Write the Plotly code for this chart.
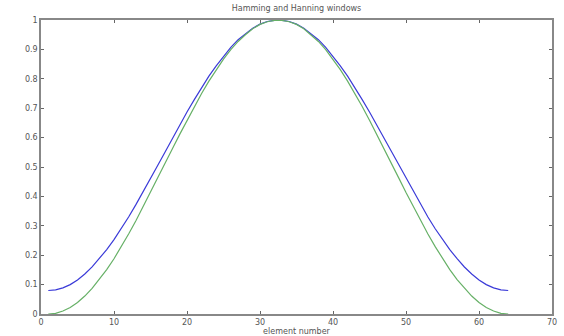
import plotly.graph_objects as go

element = list(range(1, 65))
hamming_half = [0.080, 0.082, 0.089, 0.100, 0.116, 0.136, 0.160, 0.188, 0.219, 0.253,
                0.290, 0.330, 0.372, 0.415, 0.460, 0.506, 0.551, 0.597, 0.642, 0.687,
                0.729, 0.770, 0.809, 0.844, 0.877, 0.907, 0.933, 0.954, 0.972, 0.986,
                0.995, 0.999]
hanning_half = [0.000, 0.002, 0.010, 0.022, 0.039, 0.061, 0.087, 0.117, 0.151, 0.188,
                0.229, 0.272, 0.317, 0.365, 0.413, 0.463, 0.512, 0.562, 0.611, 0.659,
                0.706, 0.750, 0.792, 0.831, 0.867, 0.899, 0.927, 0.950, 0.970, 0.985,
                0.994, 0.999]
hamming = hamming_half + hamming_half[::-1]
hanning = hanning_half + hanning_half[::-1]

x_ticks = [0, 10, 20, 30, 40, 50, 60, 70]
y_ticks = [0, 0.1, 0.2, 0.3, 0.4, 0.5, 0.6, 0.7, 0.8, 0.9, 1]
y_labels = ["0", "0.1", "0.2", "0.3", "0.4", "0.5", "0.6", "0.7", "0.8", "0.9", "1"]

fig = go.Figure()
fig.add_trace(go.Scatter(x=element, y=hamming, mode="lines",
                         line=dict(color="#3a3ad8", width=1.2), name="Hamming"))
fig.add_trace(go.Scatter(x=element, y=hanning, mode="lines",
                         line=dict(color="#66b066", width=1.2), name="Hanning"))

axis_common = dict(showgrid=False, zeroline=False, showline=True, linecolor="#888888",
                   linewidth=1.5, mirror="ticks", ticks="inside", ticklen=3,
                   tickcolor="#666666", automargin=False,
                   tickfont=dict(size=8, color="#555555", family="DejaVu Sans"))
fig.update_xaxes(range=[0, 70], tickvals=x_ticks, **axis_common,
                 title=dict(text="element number", standoff=0,
                            font=dict(size=8, color="#555555", family="DejaVu Sans")))
fig.update_yaxes(range=[0, 1], tickvals=y_ticks, ticktext=y_labels, **axis_common)
fig.update_layout(
    width=564, height=336, showlegend=False,
    plot_bgcolor="white", paper_bgcolor="white",
    margin=dict(l=41, r=12, t=20, b=22),
    title=dict(text="Hamming and Hanning windows", x=0.5, xref="paper",
               yref="container", y=0.976, yanchor="middle",
               font=dict(size=8, color="#555555", family="DejaVu Sans")),
)
fig.write_html("out.html", config={"displayModeBar": False},
               post_script="document.body.style.margin='0';document.body.style.overflow='hidden';")
